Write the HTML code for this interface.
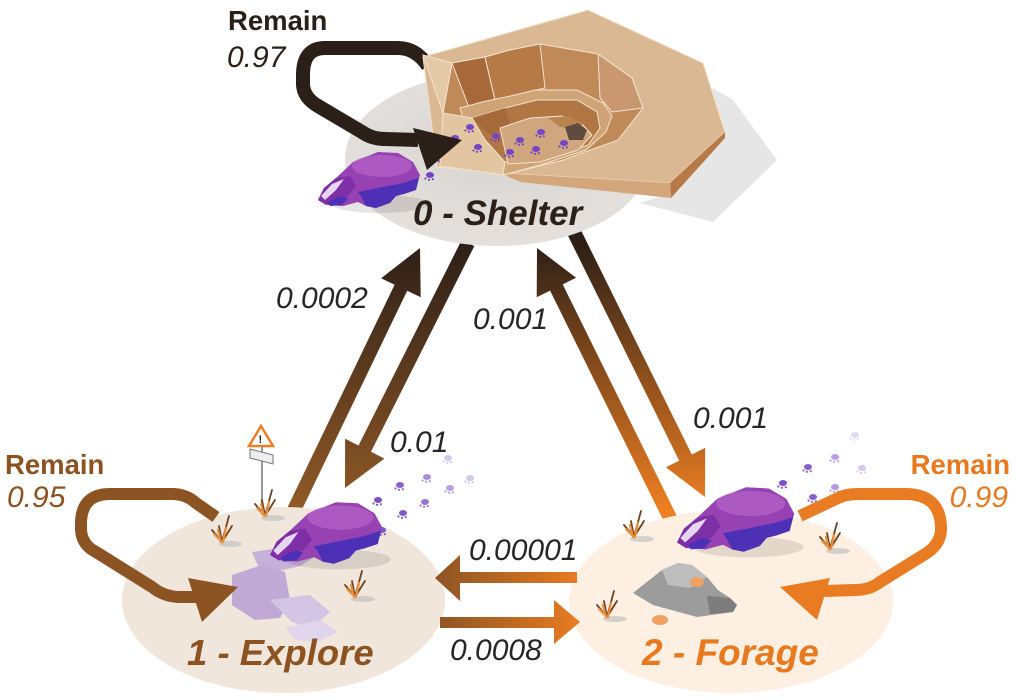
<!DOCTYPE html>
<html><head><meta charset="utf-8"><style>
html,body{margin:0;padding:0;background:#fff;}
svg{display:block;}
text{font-family:"Liberation Sans",Arial,sans-serif;}
</style></head><body>
<svg width="1016" height="700" viewBox="0 0 1016 700" xmlns="http://www.w3.org/2000/svg">
<defs>
<linearGradient id="gL" gradientUnits="userSpaceOnUse" x1="0" y1="240" x2="0" y2="510">
<stop offset="0" stop-color="#2a1e17"/><stop offset="1" stop-color="#925a27"/></linearGradient>
<linearGradient id="gR" gradientUnits="userSpaceOnUse" x1="0" y1="240" x2="0" y2="510">
<stop offset="0" stop-color="#2a1e17"/><stop offset="1" stop-color="#ee7f22"/></linearGradient>
<linearGradient id="gH" gradientUnits="userSpaceOnUse" x1="435" y1="0" x2="580" y2="0">
<stop offset="0" stop-color="#8c5423"/><stop offset="1" stop-color="#e97c22"/></linearGradient>
<radialGradient id="shE" cx="0.5" cy="0.45" r="0.6">
<stop offset="0" stop-color="#d8d4d1"/><stop offset="1" stop-color="#e4e1df"/></radialGradient>
<g id="paw">
<ellipse cx="0" cy="0" rx="4" ry="3" fill="#7446c4"/>
<circle cx="-4.5" cy="3.5" r="1.1" fill="#7446c4"/>
<circle cx="-1" cy="4.8" r="1.1" fill="#7446c4"/>
<circle cx="2.8" cy="4.2" r="1.1" fill="#7446c4"/>
</g>
<g id="badger">
<ellipse cx="62" cy="54" rx="48" ry="9" fill="#000" opacity="0.10"/>
<polygon fill="#9642b2" points="0,50 6,38 18,28 35,12 60,2 80,3 95,12 102,25 98,38 88,42 80,44 72,52 58,58 48,56 40,52 25,56 10,55"/>
<ellipse cx="64" cy="16" rx="30" ry="11" fill="#b260c6" opacity="0.8"/>
<polygon fill="#4c30b6" points="40,42 60,38 85,33 101,28 98,40 86,44 78,46 72,53 58,58 48,56 44,48"/>
<polygon fill="#7e2fa6" points="0,50 6,38 18,28 32,26 38,36 30,46 18,52 8,55"/>
<polygon fill="#e6d6f0" points="3,46 14,34 26,29 18,40 7,50"/>
<polygon fill="#4c30b6" points="10,52 22,46 30,48 24,55 12,56"/>
</g>
<g id="tuft" fill="none" stroke-linecap="round">
<ellipse cx="8" cy="24" rx="12" ry="3" fill="#bbb" stroke="none" opacity="0.6"/>
<path d="M0,22 L-3,6 M0,22 L7,-4 M0,22 L-10,10 M0,22 L10,6" stroke="#6e4220" stroke-width="1.8"/>
<path d="M-1,22 L-4,10 M1,22 L4,8 M0,22 L-8,14" stroke="#e8913f" stroke-width="2.2"/>
</g>
</defs>
<rect width="1016" height="700" fill="#fff"/>

<!-- diagonal arrows -->
<polygon fill="url(#gL)" points="300.3,513 407.2,290.7 420.7,297.2 420,248 381.1,278.2 394.6,284.7 287.7,507"/>
<polygon fill="url(#gL)" points="461.7,239.9 358.5,445.5 345.1,438.8 345,488 384.4,458.6 371,451.8 474.3,246.1"/>
<polygon fill="url(#gR)" points="678.3,518.9 562.7,284.4 576.1,277.8 537,248 536.7,297.2 550.1,290.6 665.7,525.1"/>
<polygon fill="url(#gR)" points="565.7,231.1 679.2,460.7 665.8,467.3 705,497 705.2,447.8 691.8,454.5 578.3,224.9"/>

<!-- shelter shadow + ellipses -->
<polygon fill="#e6e6e6" points="713,88 733,100 777,160 713,222 640,203 680,190"/>
<ellipse cx="497" cy="159" rx="152" ry="87" fill="url(#shE)"/>
<ellipse cx="283.5" cy="600" rx="161.5" ry="93" fill="#f0e6dc"/>
<ellipse cx="731" cy="601.5" rx="162" ry="91.5" fill="#fdefe1"/>

<!-- horizontal arrows -->
<polygon fill="url(#gH)" points="577,572 460,572 460,555 435,578 460,601 460,583 577,583"/>
<polygon fill="url(#gH)" points="440,617 554,617 554,600 580,622 554,644 554,628 440,628"/>

<!-- shelter loop shaft (under shelter) -->
<path d="M428,66 Q416,48 398,48 L325,48 Q303,48 303,75 L303,85 Q304,98 318,106 L362,132 Q372,139 385,139 L418,140" fill="none" stroke="#2b2019" stroke-width="14" stroke-linejoin="round"/>

<!-- shelter structure -->
<polygon fill="#dab894" stroke="#f2e2cc" stroke-width="1" points="423,57 588,10 703,63 725,132 670,183 500,173 437,167"/>
<polygon fill="#b67a49" points="725,132 725,138 671,198 670,183"/>
<polygon fill="#d3a77b" points="670,183 671,198 520,182 500,173"/>
<!-- funnel -->
<polygon fill="#c08a58" stroke="#f3e3cc" stroke-width="1" points="443,113 452,63 485,57 510,50 540,44 598,54 632,78 643,108 618,140 563,160 503,175"/>
<polygon fill="#a8693a" stroke="#f3e3cc" stroke-width="1" points="452,63 485,57 495,100 482,102 470,110"/>
<polygon fill="#b57a45" stroke="#f3e3cc" stroke-width="1" points="485,57 510,50 540,44 545,88 515,95 495,100"/>
<polygon fill="#c99870" stroke="#f3e3cc" stroke-width="1" points="598,54 632,78 643,108 612,112 600,98"/>
<polygon fill="#e3c9a8" stroke="#f3e3cc" stroke-width="1" points="423,55 452,63 443,113"/>
<!-- ledge -->
<polygon fill="#cfa476" stroke="#f3e3cc" stroke-width="1" points="460,108 482,102 515,95 535,90 577,90 603,103 612,116 606,132 586,150 540,165 503,175 470,142"/>
<!-- inner wall -->
<polygon fill="#b07643" stroke="#f3e3cc" stroke-width="1" points="472,118 505,108 537,100 577,100 597,112 600,128 588,145 545,158 505,162 485,140"/>
<polygon fill="#a46a3a" points="472,118 505,108 510,125 490,135"/>
<!-- floor -->
<polygon fill="#cfa67e" stroke="#f3e3cc" stroke-width="1" points="500,128 530,118 562,116 582,124 592,135 578,150 540,162 508,164"/>
<polygon fill="#b98450" points="548,118 568,116 584,124 575,128 560,127"/>
<polygon fill="#5f4c3e" points="565,127 578,123 587,130 583,140 569,140"/>
<!-- ramp -->
<polygon fill="#e2c6a2" stroke="#f3e3cc" stroke-width="1" points="443,113 472,118 485,140 505,162 503,175 440,166"/>

<!-- paw prints in shelter -->
<use href="#paw" x="455" y="138"/>
<use href="#paw" x="470" y="127"/>
<use href="#paw" x="478" y="147"/>
<use href="#paw" x="496" y="136"/>
<use href="#paw" x="510" y="152"/>
<use href="#paw" x="520" y="140"/>
<use href="#paw" x="536" y="149"/>
<use href="#paw" x="541" y="132"/>
<use href="#paw" x="564" y="143"/>
<use href="#paw" x="436" y="157"/>
<use href="#paw" x="430" y="175"/>

<!-- shelter loop head -->
<polygon fill="#2b2019" points="413,128 462,140 427,170"/>

<!-- shelter badger -->
<use href="#badger" transform="translate(318,150)"/>

<!-- explore decorations -->
<polygon fill="#c6b1d9" points="252,552 300,545 322,552 300,566 262,575"/>
<polygon fill="#c0a9d4" points="232,575 262,565 285,572 290,600 280,618 255,620 232,605"/>
<polygon fill="#d3c5e3" points="270,600 310,595 330,612 312,628 292,622"/>
<polygon fill="#e0d6ec" points="285,628 320,620 338,632 318,642 296,640"/>
<line x1="262" y1="445" x2="262" y2="515" stroke="#999" stroke-width="2"/>
<polygon fill="#fff" stroke="#ec7d25" stroke-width="2.5" points="261,426 249,446 273,446"/>
<text x="258.5" y="443" font-size="11" font-weight="bold" fill="#222">!</text>
<polygon fill="#eee" stroke="#777" stroke-width="1" points="250,449 273,455 273,464 250,458"/>
<use href="#tuft" x="222" y="520"/>
<use href="#tuft" x="265" y="494"/>
<use href="#tuft" x="355" y="575"/>
<use href="#paw" x="378" y="500" opacity="0.95"/>
<use href="#paw" x="403" y="513" opacity="0.9"/>
<use href="#paw" x="400" y="485" opacity="0.85"/>
<use href="#paw" x="425" y="502" opacity="0.75"/>
<use href="#paw" x="427" y="477" opacity="0.6"/>
<use href="#paw" x="450" y="488" opacity="0.5"/>
<use href="#paw" x="448" y="458" opacity="0.3"/>
<use href="#paw" x="470" y="478" opacity="0.3"/>
<use href="#paw" x="382" y="530" opacity="0.9"/>
<use href="#badger" transform="translate(270,500) scale(1.1)"/>

<!-- forage decorations -->
<polygon fill="#9c9c9c" points="633,593 662,570 678,563 692,565 707,577 718,590 730,598 737,605 733,612 697,617 653,605"/>
<polygon fill="#bdbdbd" points="662,570 678,563 692,565 707,577 690,588 668,585"/>
<polygon fill="#7d7d7d" points="707,596 730,598 737,605 733,612 710,614"/>
<ellipse cx="697" cy="582" rx="7" ry="5" fill="#f0a060"/>
<ellipse cx="660" cy="620" rx="8" ry="5" fill="#f0a060"/>
<use href="#tuft" x="634" y="515"/>
<use href="#tuft" x="607" y="595"/>
<use href="#tuft" x="830" y="527"/>
<use href="#paw" x="783" y="483" opacity="0.95"/>
<use href="#paw" x="808" y="467" opacity="0.85"/>
<use href="#paw" x="813" y="497" opacity="0.85"/>
<use href="#paw" x="835" y="457" opacity="0.5"/>
<use href="#paw" x="835" y="487" opacity="0.55"/>
<use href="#paw" x="862" y="468" opacity="0.3"/>
<use href="#paw" x="855" y="435" opacity="0.2"/>
<use href="#badger" transform="translate(677,485) scale(1.15)"/>

<!-- explore loop -->
<path d="M216,517 L196,503 Q186,494 172,494 L110,494 Q82,494 81,522 L81,530 Q82,545 96,552 L152,587 Q163,596 178,597 L196,597" fill="none" stroke="#8c5423" stroke-width="12" stroke-linejoin="round"/>
<polygon fill="#8c5423" points="188,578 238,587 202,622"/>

<!-- forage loop -->
<path d="M800,516 L838,498 Q846,494 858,494 L905,494 Q940,494 941,527 Q942,545 922,556 L880,582 Q870,590 855,590 L824,591" fill="none" stroke="#e97c22" stroke-width="12" stroke-linejoin="round"/>
<polygon fill="#e97c22" points="830,578 780,587 817,620"/>

<!-- labels -->
<text x="228" y="30" font-size="27.5" font-weight="bold" fill="#2b2018">Remain</text>
<text x="227" y="67" font-size="30" font-style="italic" fill="#2b2018">0.97</text>
<text x="5" y="474" font-size="27.5" font-weight="bold" fill="#8c5220">Remain</text>
<text x="7" y="507" font-size="30" font-style="italic" fill="#8c5220">0.95</text>
<text x="1010" y="474" font-size="27.5" font-weight="bold" fill="#e8791f" text-anchor="end">Remain</text>
<text x="1008" y="507" font-size="30" font-style="italic" fill="#e8791f" text-anchor="end">0.99</text>

<text x="413" y="225" font-size="35" font-weight="bold" font-style="italic" fill="#2b2018">0 - Shelter</text>
<text x="187" y="665" font-size="36.5" font-weight="bold" font-style="italic" fill="#8c5220">1 - Explore</text>
<text x="642" y="665" font-size="37" font-weight="bold" font-style="italic" fill="#e8791f">2 - Forage</text>

<text x="276" y="308" font-size="30" font-style="italic" fill="#262626">0.0002</text>
<text x="473" y="329" font-size="30" font-style="italic" fill="#262626">0.001</text>
<text x="390" y="452" font-size="30" font-style="italic" fill="#262626">0.01</text>
<text x="693" y="428" font-size="30" font-style="italic" fill="#262626">0.001</text>
<text x="469" y="560" font-size="30" font-style="italic" fill="#262626">0.00001</text>
<text x="450" y="660" font-size="30" font-style="italic" fill="#262626">0.0008</text>
</svg>
</body></html>
